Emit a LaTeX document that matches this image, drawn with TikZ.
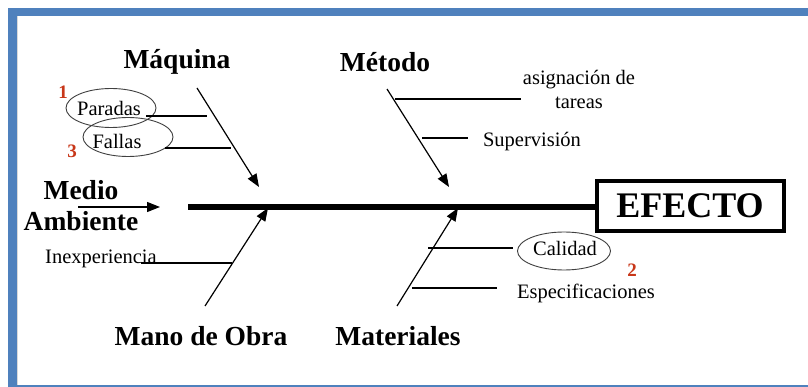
\documentclass[tikz,border=0pt]{standalone}
\usepackage{fontspec}
\setmainfont{Liberation Serif}
\usetikzlibrary{arrows.meta,shapes.geometric}
\definecolor{frameblue}{RGB}{79,129,189}
\definecolor{numred}{RGB}{200,55,25}
\tikzset{
  cat/.style={font=\fontsize{27.5}{29}\selectfont\bfseries, inner sep=0pt},
  cause/.style={font=\fontsize{20.5}{23}\selectfont, inner sep=0pt},
  num/.style={font=\fontsize{19}{20}\selectfont\bfseries, text=numred, inner sep=0pt},
  bone/.style={line width=1.2pt, -{Triangle[length=13pt,width=10pt]}},
  twig/.style={line width=1.1pt},
  ring/.style={draw=black!75, line width=0.9pt, ellipse, inner sep=0pt},
}
\begin{document}
\begin{tikzpicture}[x=1pt,y=-1pt]
\useasboundingbox (0,0) rectangle (808,387);
\fill[white] (0,0) rectangle (808,387);
% frame
\fill[frameblue] (8,8) rectangle (808,16);
\fill[frameblue] (8,8) rectangle (17,387);
\fill[frameblue] (8,385) rectangle (808,387);
\fill[black!15] (17,16) rectangle (18,385);
% effect
\node[draw, line width=4pt, minimum width=187pt, minimum height=50pt, inner sep=0pt,
      font=\fontsize{36}{38}\selectfont\bfseries] (efecto) at (690,206) {EFECTO};
\coordinate (spineL) at (188,207);
\draw[line width=5.5pt] (spineL) -- (efecto.west |- spineL);
% categories
\node[cat] (maquina) at (177,62) {Máquina};
\node[cat] (metodo) at (385,62) {Método};
\node[cat, align=center] (medio) at (81,206) {Medio\\[2pt]Ambiente};
\node[cat] (mano) at (201,336) {Mano de Obra};
\node[cat] (materiales) at (398,336) {Materiales};
% bone coordinates
\coordinate (maqS) at (197,88);  \coordinate (maqE) at (259,187);
\coordinate (metS) at (387,89);  \coordinate (metE) at (449,187);
\coordinate (medS) at (78,207);  \coordinate (medE) at (160,207);
\coordinate (manS) at (205,306); \coordinate (manE) at (268,208);
\coordinate (matS) at (397,306); \coordinate (matE) at (458,208);
\draw[bone] (maqS) -- (maqE);
\draw[bone] (metS) -- (metE);
\draw[bone] (medS) -- (medE);
\draw[bone] (manS) -- (manE);
\draw[bone] (matS) -- (matE);
% causes
\node[cause] (paradas) at (109,108) {Paradas};
\node[cause] (fallas) at (117,141) {Fallas};
\node[ring, minimum width=90pt, minimum height=39pt] (ringP) at (111,108) {};
\node[ring, minimum width=90pt, minimum height=39pt] (ringF) at (128,137) {};
\node[num] (n1) at (63,92) {1};
\node[num] (n3) at (72,151) {3};
\coordinate (pE) at (207,116);
\coordinate (fE) at (231,148);
\draw[twig] (ringP.east |- pE) ++(-10,0) -- (pE);
\draw[twig] (ringF.east |- fE) ++(-8,0) -- (fE);

\node[cause, align=center] (asig) at (579,89) {asignación de\\[1pt]tareas};
\node[cause] (superv) at (532,142) {Supervisión};
\coordinate (aS) at (395,99); \coordinate (aE) at (521,99);
\coordinate (sS) at (422,138); \coordinate (sE) at (468,138);
\draw[twig] (aS) -- (aE);
\draw[twig] (sS) -- (sE);

\node[cause] (inexp) at (101,259) {Inexperiencia};
\coordinate (iE) at (232,263);
\draw[twig] (inexp.east |- iE) ++(-16,0) -- (iE);

\node[cause] (calidad) at (565,248) {Calidad};
\node[ring, minimum width=93pt, minimum height=38pt] (ringC) at (564,251) {};
\node[num] (n2) at (632,270) {2};
\node[cause] (espec) at (586,293) {Especificaciones};
\coordinate (cS) at (428,248);
\coordinate (eS) at (412,288);
\draw[twig] (cS) -- (513,248);
\draw[twig] (eS) -- (497,288);
\end{tikzpicture}
\end{document}
